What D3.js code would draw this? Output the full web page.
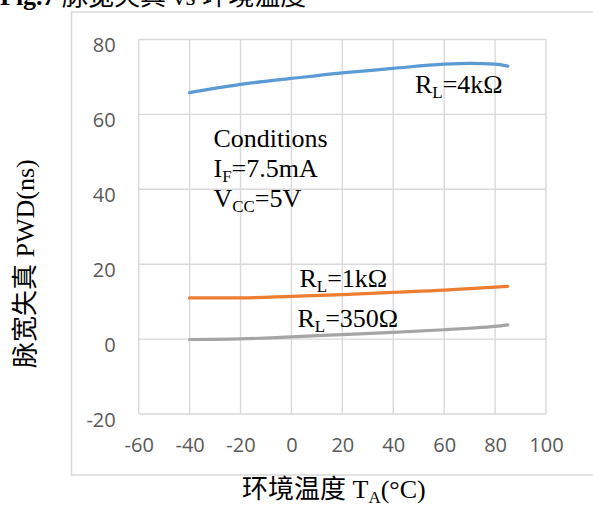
<!DOCTYPE html>
<html><head><meta charset="utf-8">
<script src="https://cdn.jsdelivr.net/npm/d3@7/dist/d3.min.js"></script>
<style>
body{margin:0;background:#fff;}
svg{display:block;}
</style></head>
<body><svg id="c" width="593" height="511"></svg>
<script>
const temps = [-40, -20, 0, 20, 40, 60, 70, 80, 85];
const pwd4k = [65.8, 68.0, 69.6, 71.1, 72.3, 73.4, 73.6, 73.4, 72.9];
const pwd1k = [11.0, 11.0, 11.4, 11.9, 12.5, 13.1, 13.5, 13.9, 14.1];
const pwd350 = [-0.1, 0.05, 0.6, 1.2, 1.8, 2.5, 2.9, 3.4, 3.8];
const xTicks = [-60, -40, -20, 0, 20, 40, 60, 80, 100];
const yTicks = [-20, 0, 20, 40, 60, 80];
const seriesNames = ["4k", "1k", "350"];
const seriesColors = ["#5B9BD5", "#ED7D31", "#A5A5A5"];

const svg = d3.select("#c");
const serif = "'Liberation Serif','Times New Roman',serif";
const cjk = "'Liberation Serif','Noto Sans CJK SC',serif";
const tickFont = "'Open Sans',sans-serif";

// title (cut off at top)
const title = svg.append("text").attr("x", 0).attr("y", 5)
  .attr("font-size", 26).attr("font-family", cjk).attr("fill", "#000");
title.append("tspan").attr("font-weight", "bold").text("Fig.7 ");
title.append("tspan").text("脉宽失真 vs 环境温度");

// outer chart box
svg.append("rect").attr("x", 71.5).attr("y", 12).attr("width", 560).attr("height", 463)
  .attr("fill", "none").attr("stroke", "#D9D9D9").attr("stroke-width", 1.5);

const x = d3.scaleLinear().domain([-60, 100]).range([138.7, 546]);
const y = d3.scaleLinear().domain([-20, 80]).range([414, 39.5]);

// gridlines
svg.append("g").selectAll("line").data(yTicks).join("line")
  .attr("x1", x(-60)).attr("x2", x(100)).attr("y1", d => y(d)).attr("y2", d => y(d))
  .attr("stroke", "#D9D9D9").attr("stroke-width", 1.4);
svg.append("g").selectAll("line").data(xTicks).join("line")
  .attr("y1", y(-20)).attr("y2", y(80)).attr("x1", d => x(d)).attr("x2", d => x(d))
  .attr("stroke", "#D9D9D9").attr("stroke-width", 1.4);

// axes labels via d3 axes
const fmt = d => String(d);
const yAxis = svg.append("g").attr("transform", `translate(${x(-60)},0)`)
  .call(d3.axisLeft(y).tickValues(yTicks).tickSize(0).tickPadding(23).tickFormat(fmt));
yAxis.select(".domain").remove();
yAxis.selectAll("text").attr("font-family", tickFont).attr("font-size", 20).attr("fill", "#595959")
  .attr("dy", "0.6em");
const xAxis = svg.append("g").attr("transform", `translate(0,${y(-20)})`)
  .call(d3.axisBottom(x).tickValues(xTicks).tickSize(0).tickPadding(20).tickFormat(fmt));
xAxis.select(".domain").remove();
xAxis.selectAll("text").attr("font-family", tickFont).attr("font-size", 20).attr("fill", "#595959")
  .attr("dy", "0.88em");

// series
const line = d3.line().x((d, i) => x(temps[i])).y(d => y(d)).curve(d3.curveMonotoneX);
[pwd4k, pwd1k, pwd350].forEach((s, i) => {
  svg.append("path").datum(s).attr("d", line).attr("fill", "none")
    .attr("stroke", seriesColors[i]).attr("stroke-width", 3.2).attr("stroke-linecap", "round");
});

// series labels
function subText(xp, yp, main, sub, rest, fs) {
  const t = svg.append("text").attr("x", xp).attr("y", yp).attr("font-family", serif)
    .attr("font-size", fs).attr("fill", "#000");
  t.append("tspan").text(main);
  t.append("tspan").attr("font-size", fs * 0.65).attr("dy", 5).text(sub);
  t.append("tspan").attr("dy", -5).text(rest);
  return t;
}
subText(415, 92.7, "R", "L", "=4kΩ", 26);
subText(299.5, 286.7, "R", "L", "=1kΩ", 26);
subText(297.5, 326.7, "R", "L", "=350Ω", 26);

// conditions
svg.append("text").attr("x", 213.5).attr("y", 147.3).attr("font-family", serif)
  .attr("font-size", 26).attr("fill", "#000").text("Conditions");
subText(213.5, 177.3, "I", "F", "=7.5mA", 26);
subText(213.5, 206.7, "V", "CC", "=5V", 26);

// axis titles
const xt = svg.append("text").attr("x", 242).attr("y", 497.5).attr("font-family", cjk)
  .attr("font-size", 26).attr("fill", "#000");
xt.append("tspan").text("环境温度 T");
xt.append("tspan").attr("font-size", 17).attr("dy", 5).text("A");
xt.append("tspan").attr("dy", -5).text("(°C)");

svg.append("text").attr("transform", "translate(34,368) rotate(-90)")
  .attr("font-family", cjk).attr("font-size", 26).attr("fill", "#000")
  .text("脉宽失真 PWD(ns)");
</script></body></html>
